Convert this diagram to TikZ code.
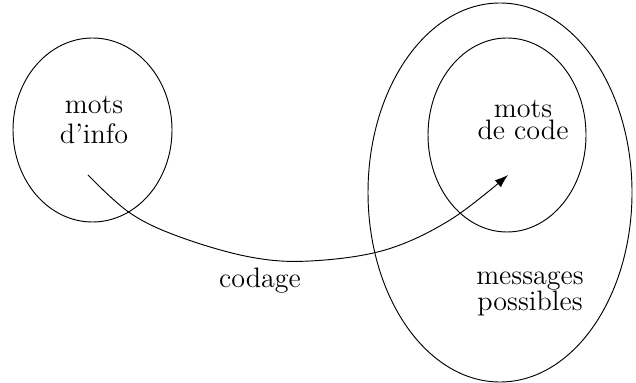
\documentclass[tikz,border=0pt]{standalone}
\usepackage{tikz}
\usetikzlibrary{arrows.meta}

\begin{document}
\begin{tikzpicture}[
    x=0.015cm, y=-0.015cm,
    ens/.style={draw, thin},
    lbl/.style={align=center, inner sep=0pt, font=\large},
    arr/.style={-{Latex[length=2mm,width=1.4mm]}, thin}
]
\useasboundingbox (0,0) rectangle (636,383);
% ensembles
\draw[ens] (92.5,130) ellipse [x radius=79.5, y radius=92];
\draw[ens] (500,192.5) ellipse [x radius=132, y radius=189.5];
\draw[ens] (507,135) ellipse [x radius=79, y radius=97];

\node[lbl] (info) at (94,120) {mots\\[-1.6pt]d'info};
\node[lbl] (code) at (523,120) {mots\\[-5pt]de code};
\node[lbl] (poss) at (530,294) {messages\\[-3pt]possibles};
\node[lbl] (cod) at (260,281) {codage};

% fleche de codage
\coordinate (dep) at (88,175);
\coordinate (arr) at (508,175);
\draw[arr] plot[smooth, tension=0.6] coordinates {(dep) (130,213) (180,237)
           (250,257) (310,261) (385,250) (450,220) (arr)};
\end{tikzpicture}
\end{document}
